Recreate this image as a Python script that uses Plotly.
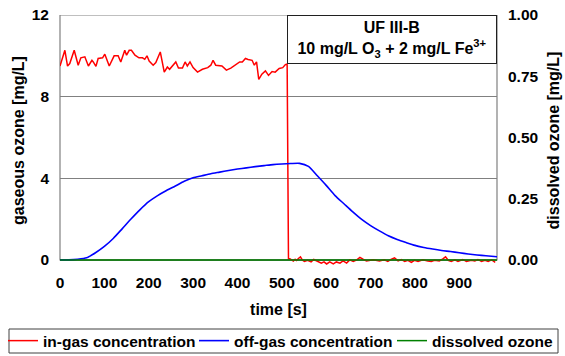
import plotly.graph_objects as go

# ---------------- data ----------------
in_gas_t = [0, 11, 17, 22, 32, 41, 47, 56, 64, 72, 75, 81, 86, 96, 101, 111, 122, 131, 137, 146,
            150, 156, 161, 169, 178, 186, 191, 196, 201, 210, 216, 226, 235, 242, 247, 256, 261,
            267, 276, 282, 287, 293, 300, 310, 321, 333, 340, 345, 351, 365, 375, 385, 396, 405,
            411, 418, 424, 433, 438, 443, 448, 455, 463, 470, 478, 485, 494, 502, 508, 512,
            515, 518, 522, 526, 530, 533, 538, 542, 546, 551, 558, 566, 572, 578, 584, 589, 595,
            601, 608, 616, 623, 631, 638, 646, 653, 661, 669, 676, 683, 691, 706, 720, 731, 739,
            746, 754, 762, 769, 777, 784, 792, 799, 807, 818, 829, 837, 844, 855, 863, 869, 875,
            882, 890, 897, 908, 916, 927, 935, 942, 950, 958, 965, 973, 981]
in_gas_v = [9.50, 10.27, 9.50, 9.62, 10.27, 9.54, 9.90, 9.95, 9.50, 9.78, 9.70, 9.48, 9.87, 9.90,
            10.08, 9.50, 10.00, 10.00, 9.70, 10.27, 10.03, 10.27, 10.27, 10.03, 9.90, 9.90, 9.83,
            10.00, 9.74, 9.54, 9.67, 10.19, 9.20, 9.45, 9.34, 9.57, 9.70, 9.40, 9.40, 9.70, 9.50,
            9.70, 9.42, 9.20, 9.34, 9.42, 9.54, 9.78, 9.54, 9.50, 9.30, 9.40, 9.57, 9.70, 9.70,
            9.87, 9.82, 9.78, 9.54, 9.70, 8.84, 9.10, 9.26, 9.04, 9.23, 9.20, 9.38, 9.42, 9.57,
            9.60,
            0.05, 0.05, 0.00, -0.06, 0.03, -0.03, 0.08, 0.15, 0.00, -0.08, -0.02, -0.10, 0.02,
            -0.05, -0.08, -0.16, -0.10, -0.20, -0.10, -0.20, -0.10, -0.16, -0.05, -0.16, 0.00,
            -0.08, 0.00, 0.12, 0.03, -0.05, 0.00, -0.05, 0.00, -0.08, 0.02, 0.10, -0.05, 0.02,
            -0.08, -0.02, -0.12, -0.02, -0.08, 0.00, -0.05, -0.08, -0.02, -0.05, 0.05, 0.15,
            -0.02, -0.08, 0.00, -0.08, 0.02, -0.08, -0.02, -0.05, 0.02, -0.08, -0.02, -0.08,
            0.00, -0.12]

off_gas_t = [0, 20, 40, 60, 80, 100, 120, 140, 160, 180, 200, 220, 240, 260, 280, 300, 320, 340,
             360, 380, 400, 420, 440, 460, 480, 500, 520, 540, 560, 580, 600, 620, 640, 660, 680,
             700, 720, 740, 760, 780, 800, 820, 840, 860, 880, 900, 920, 940, 960, 985]
off_gas_v = [0.00, 0.00, 0.03, 0.10, 0.35, 0.66, 1.05, 1.52, 2.00, 2.45, 2.85, 3.15, 3.40, 3.62,
             3.85, 4.02, 4.12, 4.22, 4.30, 4.38, 4.45, 4.51, 4.57, 4.62, 4.67, 4.70, 4.72, 4.73,
             4.58, 4.12, 3.65, 3.15, 2.75, 2.35, 1.98, 1.68, 1.42, 1.18, 1.00, 0.85, 0.71, 0.61,
             0.53, 0.46, 0.41, 0.35, 0.29, 0.24, 0.20, 0.15]

dissolved_t = [0, 100, 200, 300, 400, 500, 600, 700, 800, 900, 985]
dissolved_v = [0, 0, 0, 0, 0, 0, 0, 0, 0, 0, 0]

x_ticks = [0, 100, 200, 300, 400, 500, 600, 700, 800, 900]
y_ticks = [0, 4, 8, 12]
y2_ticks = [0, 0.25, 0.5, 0.75, 1.0]
y2_labels = ["0.00", "0.25", "0.50", "0.75", "1.00"]

title_lines = ["UF III-B", "10 mg/L O<sub>3</sub> + 2 mg/L Fe<sup>3+</sup>"]

# ---------------- figure ----------------
FONT = "Liberation Sans, Arial, sans-serif"
Y_LOW = -0.3
Y_HIGH = 12
TICKF = dict(size=15.5, weight="bold", color="black")
TITLEF = dict(size=16, weight="bold", color="black")
LEGF = dict(family=FONT, size=15.5, weight="bold", color="black")

fig = go.Figure()
fig.add_trace(go.Scatter(x=in_gas_t, y=in_gas_v, name="<b>in-gas concentration</b>",
                         mode="lines", line=dict(color="#FF0000", width=1.5), legend="legend"))
fig.add_trace(go.Scatter(x=off_gas_t, y=off_gas_v, name="<b>off-gas concentration</b>",
                         mode="lines", line=dict(color="#0000FF", width=1.6, shape="spline",
                                                 smoothing=0.6), legend="legend2"))
fig.add_trace(go.Scatter(x=dissolved_t, y=dissolved_v, name="<b>dissolved ozone</b>", yaxis="y2",
                         mode="lines", line=dict(color="#008000", width=1.5), legend="legend3"))

# frame (left, top, right in gray) and black baseline at y=0
fig.add_shape(type="rect", xref="paper", yref="y", x0=0, x1=1, y0=0, y1=Y_HIGH,
              line=dict(color="#808080", width=1.2), layer="below")
fig.add_shape(type="line", xref="paper", yref="y", x0=0, x1=1, y0=0, y1=0,
              line=dict(color="#000000", width=1), layer="below")

# legend frame (shared box around the three legend entries)
L, R, T, B = 60, 68, 15, 90
W, H = 565, 356
PW, PH = W - L - R, H - T - B
def px_x(px):
    return (px - L) / PW
def px_y(py):
    return (H - B - py) / PH
fig.add_shape(type="rect", xref="paper", yref="paper", x0=px_x(9), x1=px_x(558),
              y0=px_y(329), y1=px_y(353), line=dict(color="#404040", width=1))

fig.add_annotation(xref="paper", yref="paper", x=1, y=1, xanchor="right", yanchor="top",
                   text="<br>".join(title_lines), showarrow=False, align="center",
                   font=dict(family=FONT, size=16, color="black", weight="bold"),
                   bgcolor="white", bordercolor="#202020", borderwidth=1, borderpad=2,
                   width=204, height=43)

leg_common = dict(orientation="h", xref="container", yref="container", y=0.042,
                  xanchor="left", yanchor="middle", borderwidth=0, font=LEGF,
                  itemwidth=30, bgcolor="rgba(0,0,0,0)")

fig.update_layout(
    width=W, height=H,
    margin=dict(l=L, r=R, t=T, b=B, autoexpand=False),
    plot_bgcolor="white", paper_bgcolor="white",
    font=dict(family=FONT, size=15.5, color="black"),
    showlegend=True,
    legend=dict(x=3 / W, **leg_common),
    legend2=dict(x=194 / W, **leg_common),
    legend3=dict(x=392 / W, **leg_common),
    xaxis=dict(range=[0, 985], tickvals=x_ticks, showgrid=False, zeroline=False,
               showline=False, ticks="", ticklabelstandoff=5, automargin=False,
               tickfont=TICKF,
               title=dict(text="time [s]", font=TITLEF, standoff=14)),
    yaxis=dict(range=[Y_LOW, Y_HIGH], tickvals=y_ticks, showgrid=True, gridcolor="#808080",
               gridwidth=1, zeroline=False, showline=False, ticks="", ticklabelstandoff=10,
               automargin=False, tickfont=TICKF,
               title=dict(text="gaseous ozone [mg/L]", font=TITLEF, standoff=3)),
    yaxis2=dict(range=[Y_LOW / Y_HIGH, 1.0], tickvals=y2_ticks, ticktext=y2_labels,
                overlaying="y", side="right", showgrid=False, zeroline=False, showline=False,
                ticks="", ticklabelstandoff=10, automargin=False, tickfont=TICKF,
                title=dict(text="dissolved ozone [mg/L]", font=TITLEF, standoff=10)),
)

fig.write_html("out.html", config={"displayModeBar": False},
               post_script="document.body.style.margin='0';")
